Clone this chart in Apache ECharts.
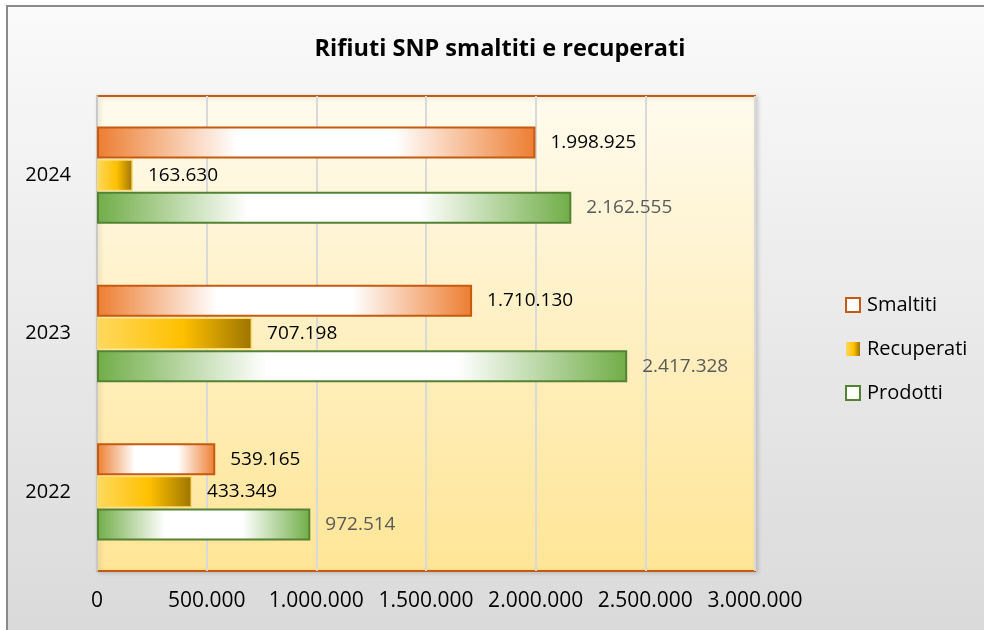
<!DOCTYPE html>
<html>
<head>
<meta charset="utf-8">
<script src="https://cdn.jsdelivr.net/npm/echarts@6/dist/echarts.min.js"></script>
<style>
html,body{margin:0;padding:0;background:#fff;}
#c{width:984px;height:630px;}
</style>
</head>
<body>
<div id="c"></div>
<script>
const categories = ['2022', '2023', '2024'];
const smaltiti = [539165, 1710130, 1998925];
const recuperati = [433349, 707198, 163630];
const prodotti = [972514, 2417328, 2162555];
const seriesNames = ['Smaltiti', 'Recuperati', 'Prodotti'];
const xMin = 0, xMax = 3000000, xStep = 500000;

const FONT = '"Open Sans", "Noto Sans", sans-serif';
function fmt(v) { return String(v).replace(/\B(?=(\d{3})+(?!\d))/g, '.'); }
function hgrad(stops) {
  return new echarts.graphic.LinearGradient(0, 0, 1, 0, stops.map(s => ({offset: s[0], color: s[1]})));
}
const orangeFill = () => hgrad([[0, '#ed7d31'], [0.32, '#ffffff'], [0.68, '#ffffff'], [1, '#ed7d31']]);
const greenFill = () => hgrad([[0, '#70ad47'], [0.32, '#ffffff'], [0.68, '#ffffff'], [1, '#70ad47']]);
const goldFill = () => hgrad([[0, '#ffd95e'], [0.55, '#ffc000'], [1, '#9c7400']]);

const chart = echarts.init(document.getElementById('c'), null, {renderer: 'canvas'});
const labelBase = {show: true, position: 'right', distance: 15, fontSize: 19, fontFamily: FONT, formatter: p => fmt(p.value)};

chart.setOption({
  animation: false,
  backgroundColor: '#ffffff',
  graphic: [{
    type: 'rect', z: -10, silent: true,
    shape: {x: 7, y: 6, width: 1000, height: 700},
    style: {
      fill: new echarts.graphic.LinearGradient(0, 0, 0, 1, [{offset: 0, color: '#fafafa'}, {offset: 1, color: '#d6d6d6'}]),
      stroke: '#8a8a8a', lineWidth: 2
    }
  }],
  title: {
    text: 'Rifiuti SNP smaltiti e recuperati',
    left: 495, top: 32, textAlign: 'center',
    textStyle: {fontFamily: FONT, fontWeight: 'bold', fontSize: 23.5, color: '#000'}
  },
  legend: {
    orient: 'vertical', left: 840, top: 290, itemGap: 24,
    itemWidth: 14, itemHeight: 14,
    textStyle: {fontFamily: FONT, fontSize: 20, color: '#000', padding: [0, 0, 0, 2]},
    data: [
      {name: seriesNames[0], icon: 'rect', itemStyle: {color: '#ffffff', borderColor: '#c55a11', borderWidth: 2}},
      {name: seriesNames[1], icon: 'rect', itemStyle: {color: goldFill(), borderWidth: 0}},
      {name: seriesNames[2], icon: 'rect', itemStyle: {color: '#ffffff', borderColor: '#548235', borderWidth: 2}}
    ]
  },
  grid: {
    left: 97, top: 96, width: 658, height: 475,
    show: true,
    backgroundColor: new echarts.graphic.LinearGradient(0, 0, 0, 1, [{offset: 0, color: '#fffbee'}, {offset: 1, color: '#ffe596'}]),
    borderColor: '#c55a11', borderWidth: 2,
    shadowColor: 'rgba(0,0,0,0.15)', shadowBlur: 4, shadowOffsetX: 2, shadowOffsetY: 1
  },
  xAxis: {
    type: 'value', min: xMin, max: xMax, interval: xStep,
    axisLine: {show: false}, axisTick: {show: false},
    splitLine: {show: true, lineStyle: {color: '#d9d9d9', width: 2}},
    axisLabel: {fontFamily: FONT, fontSize: 21, color: '#000', margin: 20, formatter: v => fmt(v)}
  },
  yAxis: {
    type: 'category', data: categories,
    axisLine: {show: true, lineStyle: {color: '#c8c8c8', width: 2}},
    axisTick: {show: false},
    axisLabel: {fontFamily: FONT, fontSize: 20, color: '#000', margin: 26}
  },
  series: [
    {
      name: seriesNames[0], type: 'bar', data: smaltiti, barWidth: 32, barGap: '2%',
      itemStyle: {color: orangeFill(), borderColor: '#c55a11', borderWidth: 2},
      label: Object.assign({}, labelBase, {color: '#000'})
    },
    {
      name: seriesNames[1], type: 'bar', data: recuperati, barWidth: 32, barGap: '2%',
      itemStyle: {color: goldFill(), borderColor: '#ffdc73', borderWidth: 1.5},
      label: Object.assign({}, labelBase, {color: '#000'})
    },
    {
      name: seriesNames[2], type: 'bar', data: prodotti, barWidth: 32, barGap: '2%',
      itemStyle: {color: greenFill(), borderColor: '#548235', borderWidth: 2},
      label: Object.assign({}, labelBase, {color: '#595959'})
    }
  ]
});
</script>
</body>
</html>
